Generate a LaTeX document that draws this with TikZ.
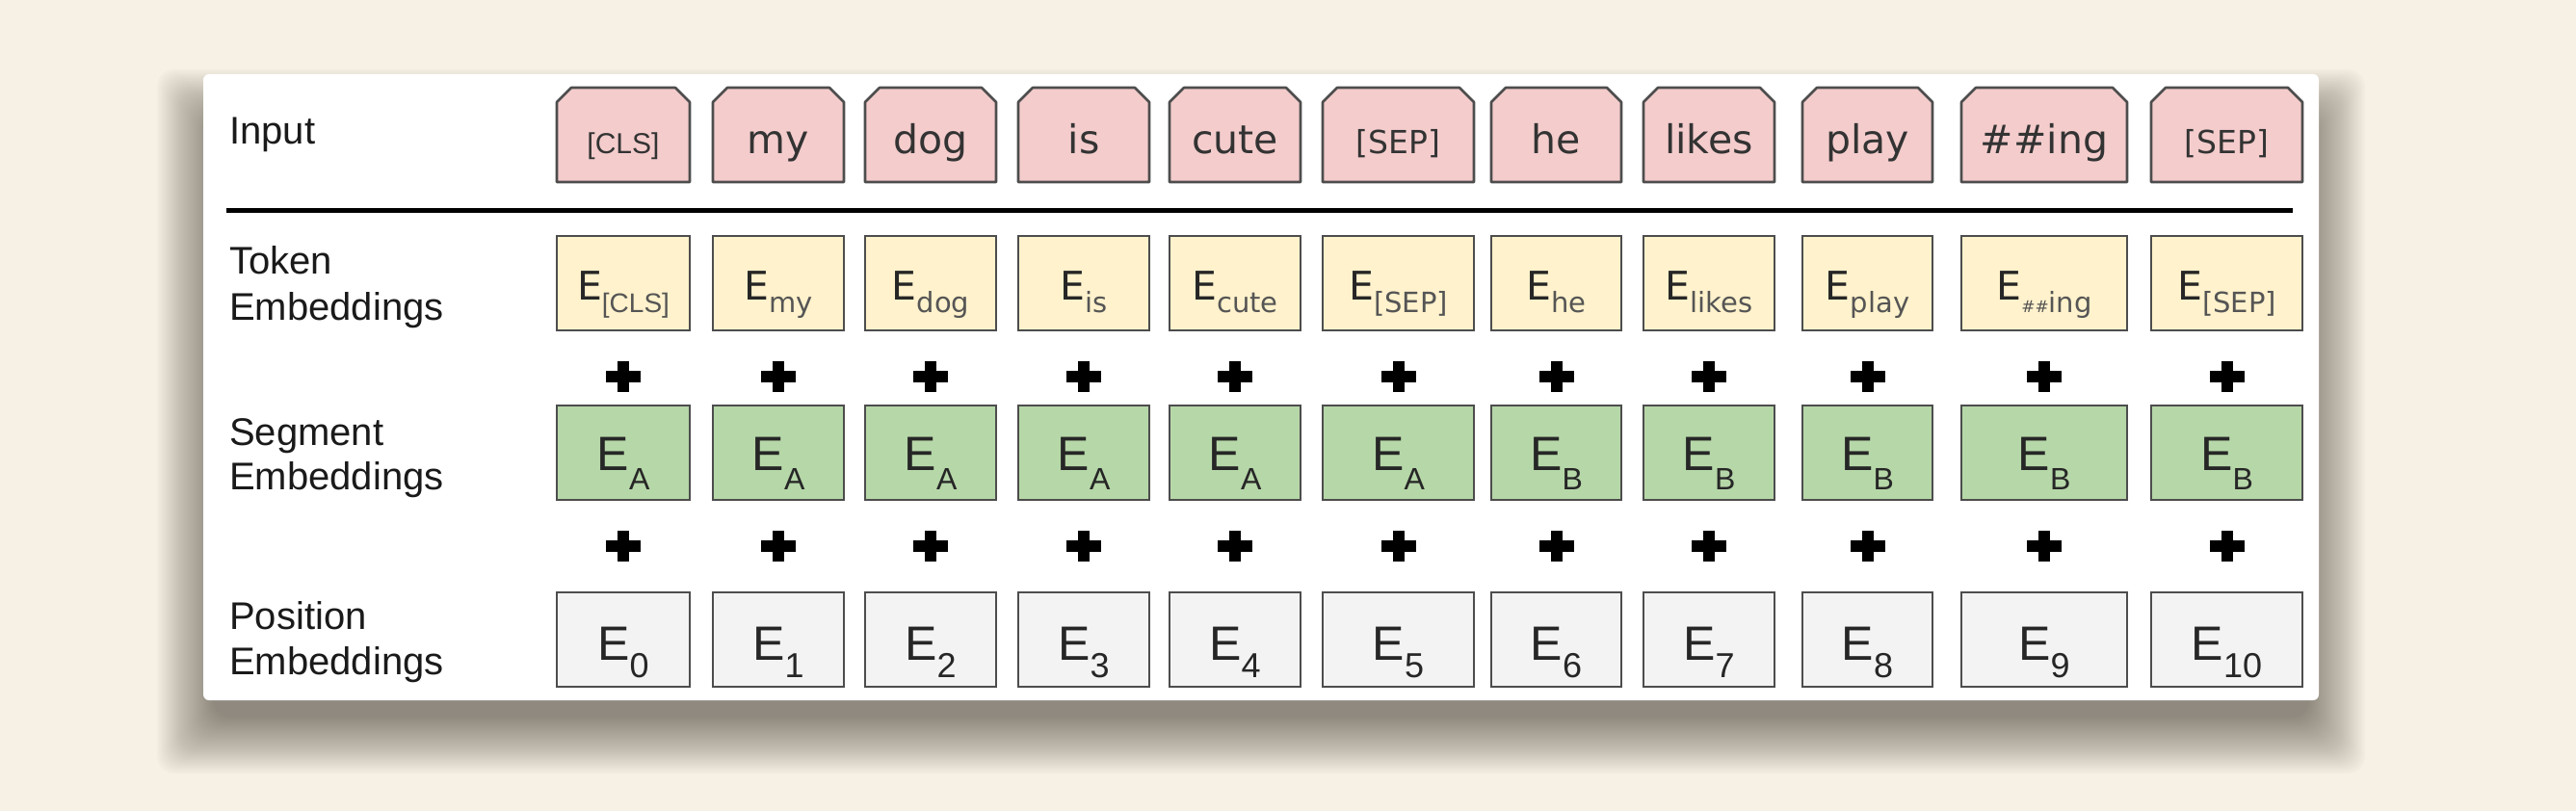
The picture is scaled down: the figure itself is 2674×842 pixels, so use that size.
\documentclass[tikz,border=0pt]{standalone}
\usepackage{fontspec}
\setmainfont{Liberation Sans}
\newfontfamily\dvs{DejaVu Sans}
\usetikzlibrary{calc}
\pgfdeclarelayer{bg}
\pgfsetlayers{bg,main}
\definecolor{pagebg}{RGB}{247,240,228}
\definecolor{inpink}{HTML}{F4CCCC}
\definecolor{tokyel}{HTML}{FFF2CC}
\definecolor{seggrn}{HTML}{B6D7A8}
\definecolor{posgry}{HTML}{F3F3F3}
\definecolor{edge}{HTML}{4D4D4D}
\definecolor{intxt}{HTML}{333333}
\definecolor{etxt}{HTML}{262626}
\definecolor{subtxt}{HTML}{555555}
\definecolor{lbltxt}{HTML}{1A1A1A}
\definecolor{shadowc}{HTML}{2A241C}
\newcommand\tksub[1]{\raisebox{-13pt}{\color{subtxt}\fontsize{29}{29}\selectfont #1}}
\newcommand\sgsub[1]{\raisebox{-20pt}{\fontsize{32}{32}\selectfont #1}}
\newcommand\pssub[1]{\raisebox{-18pt}{\fontsize{36}{36}\selectfont #1}}
\newcommand\plusglyph{\makebox[0pt]{\rule[-6pt]{36pt}{12pt}}\makebox[0pt]{\rule[-16pt]{12pt}{32pt}}}
\newcommand\bertcol[6]{%
  \node[inbox, minimum width=#3] (in#1) at (#2,140) {#4};
  \node[tokbox, minimum width=#3] (tok#1) at (#2,294) {E\tksub{#5}};
  \node[plusmark] (pa#1) at (#2,391) {\plusglyph};
  \node[segbox, minimum width=#3] (seg#1) at (#2,470) {E\sgsub{#6}};
  \node[plusmark] (pb#1) at (#2,567) {\plusglyph};
  \node[posbox, minimum width=#3] (pos#1) at (#2,664) {E\pssub{\the\numexpr#1-1\relax}};
}
\tikzset{
  inbox/.style={inner sep=0pt, outer sep=0pt, minimum height=98pt, text height=40pt, text depth=0pt, font=\dvs\fontsize{41}{41}\selectfont, text=intxt},
  ebox/.style={draw=edge, line width=2.6pt, inner sep=0pt, outer sep=0pt, minimum height=98pt},
  tokbox/.style={ebox, fill=tokyel, text height=36pt, text depth=0pt, font=\dvs\fontsize{41}{41}\selectfont, text=etxt},
  segbox/.style={ebox, fill=seggrn, text height=36pt, text depth=0pt, font=\fontsize{50}{50}\selectfont, text=etxt},
  posbox/.style={ebox, fill=posgry, text height=42pt, text depth=0pt, font=\fontsize{50}{50}\selectfont, text=etxt},
  inshape/.style={draw=edge, line width=2.6pt, fill=inpink, line join=round},
  plusmark/.style={inner sep=0pt, outer sep=0pt, text=black},
  lbl/.style={anchor=base west, inner sep=0pt, font=\fontsize{40}{40}\selectfont, text=lbltxt},
  sepline/.style={line width=5pt, black},
  shadowlayer/.style={fill=shadowc, fill opacity=0.02, rounded corners=18pt},
  card/.style={fill=white, rounded corners=6pt},
}
\begin{document}
\begin{tikzpicture}[x=1pt,y=-1pt]
\begin{pgfonlayer}{bg}
  \path[use as bounding box, fill=pagebg] (0,0) rectangle (2674,842);
  \foreach \k in {0,...,29}{
    \fill[shadowlayer] (221-2*\k,130-2*\k) rectangle (2397+2*\k,745+2*\k);
  }
  \fill[card] (211,77) rectangle (2407,727);
\end{pgfonlayer}

\node[lbl] (labin)   at (238,150) {Input};
\node[lbl] (labtok1) at (238,285) {Token};
\node[lbl] (labtok2) at (238,332) {Embeddings};
\node[lbl] (labseg1) at (238,462) {Segment};
\node[lbl] (labseg2) at (238,508) {Embeddings};
\node[lbl] (labpos1) at (238,653) {Position};
\node[lbl] (labpos2) at (238,700) {Embeddings};

\draw[sepline] (235,219) -- (2380,219);

\bertcol{1}{647}{138}{{\rmfamily\fontsize{30}{30}\selectfont [CLS]}}{{\rmfamily\fontsize{28}{28}\selectfont [CLS]}}{A}
\bertcol{2}{808}{136}{my}{my}{A}
\bertcol{3}{966}{136}{dog}{dog}{A}
\bertcol{4}{1125}{136}{is}{is}{A}
\bertcol{5}{1282}{136}{cute}{cute}{A}
\bertcol{6}{1451.5}{157}{{\fontsize{33}{33}\selectfont [SEP]}}{[SEP]}{A}
\bertcol{7}{1615.5}{135}{he}{he}{B}
\bertcol{8}{1774}{136}{likes}{likes}{B}
\bertcol{9}{1938.5}{135}{play}{play}{B}
\bertcol{10}{2122}{172}{\#\#ing}{{\fontsize{17}{17}\selectfont\#\#}ing}{B}
\bertcol{11}{2311.5}{157}{{\fontsize{33}{33}\selectfont [SEP]}}{[SEP]}{B}

\begin{pgfonlayer}{bg}
\foreach \i in {1,...,11}{
  \filldraw[inshape] (in\i.south west) -- ($(in\i.north west)+(0,15)$) -- ($(in\i.north west)+(15,0)$) -- ($(in\i.north east)+(-15,0)$) -- ($(in\i.north east)+(0,15)$) -- (in\i.south east) -- cycle;
}
\end{pgfonlayer}
\end{tikzpicture}
\end{document}
